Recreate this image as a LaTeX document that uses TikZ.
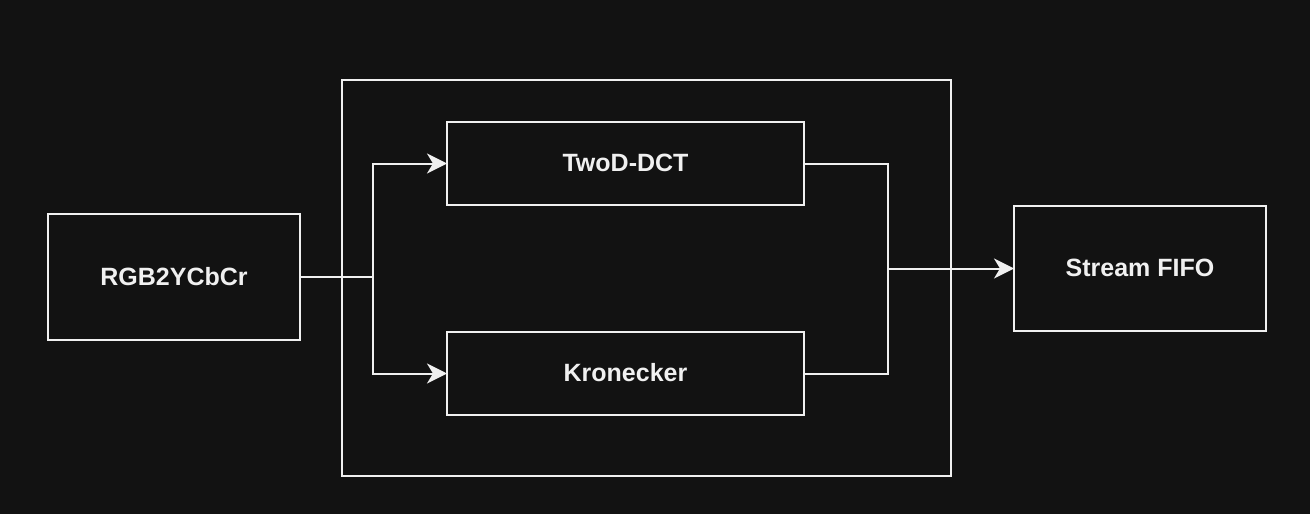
\documentclass[tikz,border=0pt]{standalone}
\usepackage{fontspec}
\setmainfont{Liberation Sans}
\usetikzlibrary{arrows.meta}
\definecolor{bg}{HTML}{121212}
\definecolor{fg}{HTML}{F0F0F0}
\begin{document}
\begin{tikzpicture}[x=1pt,y=-1pt,
  blk/.style={draw=fg,line width=2pt,fill=bg,text=fg,font=\fontsize{25}{28}\selectfont\bfseries,inner sep=0pt,outer sep=0pt,anchor=north west},
  conn/.style={draw=fg,line width=2pt},
  arr/.style={conn,-{Stealth[length=20pt,width=20pt,inset=6pt]}}]
\fill[bg] (0,0) rectangle (1310,514);
\useasboundingbox (0,0) rectangle (1310,514);
\node[blk,minimum width=609pt,minimum height=396pt] (outer) at (342,80) {};
\node[blk,minimum width=252pt,minimum height=126pt] (rgb) at (48,214) {\raisebox{1.5pt}{RGB2YCbCr}};
\node[blk,minimum width=357pt,minimum height=83pt] (dct) at (447,122) {\raisebox{1.5pt}{TwoD-DCT}};
\node[blk,minimum width=357pt,minimum height=83pt] (kron) at (447,332) {\raisebox{1.5pt}{Kronecker}};
\node[blk,minimum width=252pt,minimum height=125pt] (fifo) at (1014,206) {\raisebox{1.5pt}{Stream FIFO}};
\coordinate (split) at (373,277);
\coordinate (merge) at (888,268.5);
\draw[conn] (rgb.east) -- (split);
\draw[arr] (split) |- (dct.west);
\draw[arr] (split) |- (kron.west);
\draw[conn] (dct.east) -| (merge);
\draw[conn] (kron.east) -| (merge);
\draw[arr] (merge) -- (fifo.west);
\end{tikzpicture}
\end{document}
